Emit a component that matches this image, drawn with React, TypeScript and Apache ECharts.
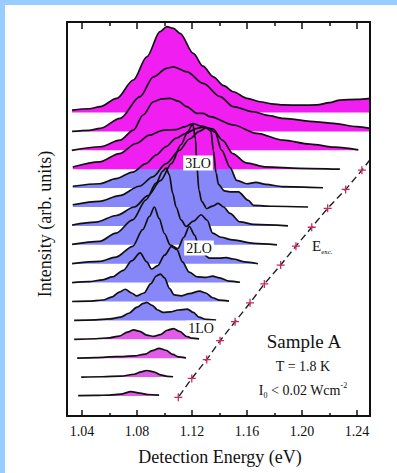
import React, { useEffect, useRef } from "react";
import * as echarts from "echarts";

// ---- axis ticks ----
const majorTicks = [1.04, 1.08, 1.12, 1.16, 1.2, 1.24];
const minorTicks = [1.06, 1.1, 1.14, 1.18, 1.22];
const xMin = 1.029;
const xMax = 1.2495;
const yMin = -1.058;
const yMax = 19.79;

// ---- spectra, top (s1) to bottom (s16): [detection energy eV, intensity in offset units] ----
const s1 = [[1.0327,0.13],[1.045,0.2],[1.0531,0.31],[1.0652,0.75],[1.0773,1.72],[1.0871,2.95],[1.0967,4.28],[1.1016,4.54],[1.1065,4.45],[1.1113,4.19],[1.1209,3.13],[1.128,2.45],[1.1355,1.89],[1.143,1.42],[1.15,1.1],[1.16,0.75],[1.1695,0.57],[1.178,0.46],[1.1864,0.4],[1.2,0.39],[1.2107,0.4],[1.22,0.52],[1.2276,0.66],[1.24,0.7],[1.2495,0.75]];
const s2 = [[1.0327,0.0],[1.045,0.06],[1.0531,0.16],[1.0676,0.69],[1.0822,1.84],[1.0919,2.89],[1.1016,3.34],[1.1064,3.42],[1.1161,3.16],[1.1282,2.54],[1.1404,1.84],[1.15,1.31],[1.1646,1.04],[1.175,0.85],[1.1864,0.69],[1.2107,0.51],[1.2228,0.43],[1.24,0.25],[1.2495,0.16]];
const s3 = [[1.0325,0.0],[1.0531,0.19],[1.0676,0.54],[1.0773,1.07],[1.0844,1.87],[1.0919,2.57],[1.098,2.72],[1.104,2.75],[1.11,2.6],[1.1161,2.31],[1.1234,1.96],[1.1282,1.96],[1.1331,1.78],[1.15,1.34],[1.1671,0.9],[1.1864,0.54],[1.2058,0.33],[1.224,0.17],[1.241,0.02]];
const s4 = [[1.0332,0.12],[1.0526,0.39],[1.0671,0.83],[1.0793,1.36],[1.089,1.8],[1.0987,2.06],[1.1084,2.1],[1.1144,2.24],[1.1205,2.42],[1.1265,2.28],[1.135,2.13],[1.1423,1.53],[1.1496,0.83],[1.1593,0.34],[1.1738,0.12],[1.1981,0.05],[1.2276,0.0]];
const s5 = [[1.0332,0.1],[1.0526,0.23],[1.0647,0.5],[1.0768,0.85],[1.0865,1.3],[1.0938,1.75],[1.1011,2.2],[1.1084,2.65],[1.1156,2.9],[1.1229,3.15],[1.1278,3.22],[1.1326,3.15],[1.1367,2.96],[1.1416,2.0],[1.1476,1.1],[1.1525,0.41],[1.1598,0.23],[1.1665,0.3],[1.1738,0.2],[1.1859,0.08],[1.2153,0.02]];
const s6 = [[1.0332,0.12],[1.0526,0.3],[1.0671,0.6],[1.0817,1.1],[1.0914,1.6],[1.1011,2.3],[1.1108,3.0],[1.1181,3.6],[1.1253,4.0],[1.1302,4.2],[1.1338,4.0],[1.1355,3.0],[1.1375,1.8],[1.1392,1.2],[1.1435,0.85],[1.1476,0.8],[1.1537,0.8],[1.161,0.35],[1.1646,0.09],[1.1787,0.04],[1.2044,0.0]];
const s7 = [[1.0327,0.05],[1.05,0.2],[1.065,0.55],[1.078,1.0],[1.088,1.6],[1.097,2.4],[1.105,3.3],[1.112,4.3],[1.117,5.0],[1.1205,5.4],[1.1225,4.6],[1.1235,3.2],[1.125,1.9],[1.127,1.3],[1.1307,0.92],[1.135,1.05],[1.139,1.19],[1.143,1.0],[1.1476,0.66],[1.155,0.21],[1.165,0.08],[1.1898,0.0]];
const s8 = [[1.0327,0.02],[1.0526,0.18],[1.0647,0.62],[1.0768,1.32],[1.0865,2.38],[1.0938,3.26],[1.0987,3.9],[1.1011,4.06],[1.1035,3.7],[1.1059,2.73],[1.1084,2.0],[1.112,1.32],[1.1156,0.97],[1.121,1.25],[1.1266,1.59],[1.131,1.3],[1.135,0.62],[1.141,0.4],[1.1496,0.26],[1.165,0.08],[1.1818,0.0]];
const s9 = [[1.0327,0.0],[1.0526,0.12],[1.0647,0.35],[1.0768,0.92],[1.0841,1.8],[1.089,2.5],[1.0926,3.0],[1.096,2.4],[1.0999,1.6],[1.104,1.0],[1.1096,0.8],[1.114,1.4],[1.118,1.97],[1.122,1.5],[1.1253,0.74],[1.1326,0.3],[1.14,0.3],[1.145,0.32],[1.15,0.25],[1.158,0.1],[1.168,0.0]];
const s10 = [[1.0327,0.0],[1.045,0.05],[1.055,0.15],[1.062,0.3],[1.07,0.65],[1.076,1.15],[1.0822,1.57],[1.087,1.1],[1.0905,0.72],[1.095,0.9],[1.1,1.45],[1.105,1.9],[1.109,1.75],[1.113,1.1],[1.118,0.55],[1.124,0.3],[1.13,0.28],[1.135,0.34],[1.14,0.25],[1.147,0.08],[1.1549,0.02]];
const s11 = [[1.0327,0.0],[1.045,0.02],[1.055,0.08],[1.062,0.25],[1.067,0.5],[1.0715,0.65],[1.076,0.45],[1.0795,0.3],[1.085,0.45],[1.09,0.95],[1.094,1.35],[1.097,1.45],[1.1,1.25],[1.1035,0.7],[1.107,0.35],[1.112,0.3],[1.118,0.42],[1.1255,0.55],[1.13,0.45],[1.135,0.2],[1.14,0.07],[1.1469,0.02]];
const s12 = [[1.0342,0.0],[1.05,0.03],[1.06,0.08],[1.068,0.17],[1.074,0.38],[1.08,0.7],[1.0845,0.9],[1.087,0.95],[1.091,0.8],[1.095,0.55],[1.099,0.42],[1.104,0.45],[1.11,0.55],[1.1166,0.6],[1.121,0.42],[1.125,0.17],[1.13,0.06],[1.1375,0.02]];
const s13 = [[1.0342,0.0],[1.05,0.03],[1.06,0.08],[1.067,0.17],[1.073,0.38],[1.0775,0.5],[1.082,0.42],[1.087,0.22],[1.092,0.16],[1.097,0.25],[1.102,0.48],[1.1065,0.57],[1.111,0.42],[1.116,0.16],[1.12,0.06],[1.1251,0.02]];
const s14 = [[1.0364,0.0],[1.05,0.03],[1.065,0.08],[1.078,0.12],[1.086,0.22],[1.091,0.4],[1.096,0.52],[1.101,0.42],[1.106,0.2],[1.11,0.07],[1.1156,0.02]];
const s15 = [[1.0393,0.0],[1.055,0.02],[1.068,0.05],[1.078,0.15],[1.083,0.28],[1.087,0.35],[1.092,0.28],[1.097,0.12],[1.102,0.04],[1.1062,0.02]];
const s16 = [[1.0371,0.02],[1.05,0.03],[1.06,0.05],[1.068,0.1],[1.0756,0.23],[1.082,0.15],[1.088,0.08],[1.096,0.05]];

const spectra = [s1, s2, s3, s4, s5, s6, s7, s8, s9, s10, s11, s12, s13, s14, s15, s16];
const baselines = [15, 14, 13, 12, 11, 10, 9, 8, 7, 6, 5, 4, 3, 2, 1, 0];
const fillColors = [
  "#f01ef0", "#f01ef0", "#f01ef0", "#f01ef0",
  "#8787fa", "#8787fa", "#8787fa", "#8787fa", "#8787fa", "#8787fa", "#8787fa", "#8787fa",
  "#e25ae8", "#e25ae8", "#e25ae8", "#e25ae8",
];

// ---- excitation energies (spectra s4..s16) and their offsets ----
const excEnergy = [1.2436, 1.2318, 1.2187, 1.2071, 1.1956, 1.1845, 1.1726, 1.1622, 1.1513, 1.1404, 1.1307, 1.1198, 1.11];
const excLevel = [11.95, 10.93, 9.93, 8.93, 7.93, 6.93, 5.93, 4.93, 3.93, 2.93, 1.93, 0.93, -0.07];
const excEdge = [1.2495, 12.5];

const SERIF = '"Liberation Serif", "Times New Roman", serif';
const PLUS = "path://M4.2,0H5.8V4.2H10V5.8H5.8V10H4.2V5.8H0V4.2H4.2Z";

export default function App() {
  const ref = useRef<HTMLDivElement>(null);
  useEffect(() => {
    const chart = echarts.init(ref.current!, undefined, { renderer: "svg" });
    const series: any[] = [];
    for (let i = spectra.length - 1; i >= 0; i--) {
      const base = baselines[i];
      series.push({
        type: "line",
        data: spectra[i].map(([e, h]) => [e, base + h]),
        smooth: 0.3,
        smoothMonotone: "x",
        symbol: "none",
        silent: true,
        lineStyle: { width: 0, opacity: 0 },
        areaStyle: { color: fillColors[i], opacity: 1, origin: base },
        z: 2,
      });
    }
    for (let i = 0; i < spectra.length; i++) {
      const base = baselines[i];
      series.push({
        type: "line",
        data: spectra[i].map(([e, h]) => [e, base + h]),
        smooth: 0.3,
        smoothMonotone: "x",
        symbol: "none",
        silent: true,
        lineStyle: { color: "#111", width: 1.7 },
        z: 3,
      });
    }
    series.push({
      type: "line",
      data: [
        { value: excEdge, symbol: "none" },
        ...excEnergy.map((e, k) => [e, excLevel[k]]),
      ],
      symbol: PLUS,
      symbolSize: 8,
      itemStyle: { color: "#c8285a" },
      lineStyle: { type: [7, 4], color: "#222", width: 1.4 },
      z: 4,
      silent: true,
    });

    const axisCommon = {
      type: "value",
      min: xMin,
      max: xMax,
      splitLine: { show: false },
      z: 10,
    };
    const line = (show: boolean) => ({ show, onZero: false, lineStyle: { color: "#111", width: 2 } });
    const option: any = {
      animation: false,
      backgroundColor: "#ffffff",
      grid: { left: 67, right: 27, top: 22, bottom: 57 },
      xAxis: [
        {
          ...axisCommon,
          position: "bottom",
          axisLine: line(true),
          axisTick: { show: true, inside: true, length: 6, customValues: majorTicks, lineStyle: { color: "#111", width: 1.5 } },
          axisLabel: {
            show: true,
            customValues: majorTicks,
            formatter: (v: number) => v.toFixed(2),
            fontFamily: SERIF,
            fontSize: 14,
            color: "#111",
            margin: 8,
          },
        },
        {
          ...axisCommon,
          position: "bottom",
          axisLine: line(false),
          axisTick: { show: true, inside: true, length: 3, customValues: minorTicks, lineStyle: { color: "#111", width: 1.5 } },
          axisLabel: { show: false },
        },
        {
          ...axisCommon,
          position: "top",
          axisLine: line(true),
          axisTick: { show: true, inside: true, length: 7, customValues: majorTicks, lineStyle: { color: "#111", width: 1.5 } },
          axisLabel: { show: false },
        },
        {
          ...axisCommon,
          position: "top",
          axisLine: line(false),
          axisTick: { show: true, inside: true, length: 4, customValues: minorTicks, lineStyle: { color: "#111", width: 1.5 } },
          axisLabel: { show: false },
        },
      ],
      yAxis: [
        {
          type: "value", min: yMin, max: yMax, position: "left", z: 10,
          axisLine: line(true),
          axisTick: { show: false }, axisLabel: { show: false }, splitLine: { show: false },
        },
        {
          type: "value", min: yMin, max: yMax, position: "right", z: 10,
          axisLine: line(true),
          axisTick: { show: false }, axisLabel: { show: false }, splitLine: { show: false },
        },
      ],
      series,
      graphic: [
        { type: "rect", z: 100, shape: { x: 0, y: 0, width: 397, height: 5 }, style: { fill: "#99ccff" } },
        { type: "rect", z: 100, shape: { x: 0, y: 0, width: 5, height: 473 }, style: { fill: "#99ccff" } },
        {
          type: "text", z: 100, x: 45, y: 224, rotation: Math.PI / 2,
          style: { text: "Intensity (arb. units)", fontFamily: SERIF, fontSize: 18, fill: "#111", align: "center", verticalAlign: "middle" },
        },
        {
          type: "text", z: 100, x: 220, y: 457,
          style: { text: "Detection Energy (eV)", fontFamily: SERIF, fontSize: 18, fill: "#111", align: "center", verticalAlign: "middle" },
        },
        {
          type: "text", z: 100, x: 198, y: 163,
          style: { text: "3LO", fontFamily: SERIF, fontSize: 14, fill: "#111", align: "center", verticalAlign: "middle", backgroundColor: "#fff", padding: [1, 2, 0, 2] },
        },
        {
          type: "text", z: 100, x: 199, y: 248,
          style: { text: "2LO", fontFamily: SERIF, fontSize: 14, fill: "#111", align: "center", verticalAlign: "middle", backgroundColor: "#fff", padding: [1, 2, 0, 2] },
        },
        {
          type: "text", z: 100, x: 201, y: 328,
          style: { text: "1LO", fontFamily: SERIF, fontSize: 14, fill: "#111", align: "center", verticalAlign: "middle", backgroundColor: "#fff", padding: [1, 2, 0, 2] },
        },
        {
          type: "text", z: 100, x: 312, y: 246,
          style: {
            text: "{e|E}{s|exc.}",
            align: "left", verticalAlign: "middle",
            rich: {
              e: { fontFamily: SERIF, fontSize: 15, fill: "#111", lineHeight: 18, verticalAlign: "middle" },
              s: { fontFamily: SERIF, fontSize: 7, fill: "#111", lineHeight: 18, verticalAlign: "bottom" },
            },
          },
        },
        {
          type: "text", z: 100, x: 304, y: 341,
          style: { text: "Sample A", fontFamily: SERIF, fontSize: 19, fill: "#111", align: "center", verticalAlign: "middle" },
        },
        {
          type: "text", z: 100, x: 303, y: 366,
          style: { text: "T = 1.8 K", fontFamily: SERIF, fontSize: 14, fill: "#111", align: "center", verticalAlign: "middle" },
        },
        {
          type: "text", z: 100, x: 303, y: 390,
          style: {
            text: "{m|I}{s|0}{m| < 0.02 Wcm}{p|-2}",
            align: "center", verticalAlign: "middle",
            rich: {
              m: { fontFamily: SERIF, fontSize: 14, fill: "#111", lineHeight: 18, verticalAlign: "middle" },
              s: { fontFamily: SERIF, fontSize: 8, fill: "#111", lineHeight: 18, verticalAlign: "bottom" },
              p: { fontFamily: SERIF, fontSize: 8, fill: "#111", lineHeight: 18, verticalAlign: "top" },
            },
          },
        },
      ],
    };
    chart.setOption(option);
    return () => chart.dispose();
  }, []);
  return (
    <div
      ref={ref}
      style={{ position: "fixed", left: 0, top: 0, width: 397, height: 473, background: "#fff" }}
    />
  );
}
